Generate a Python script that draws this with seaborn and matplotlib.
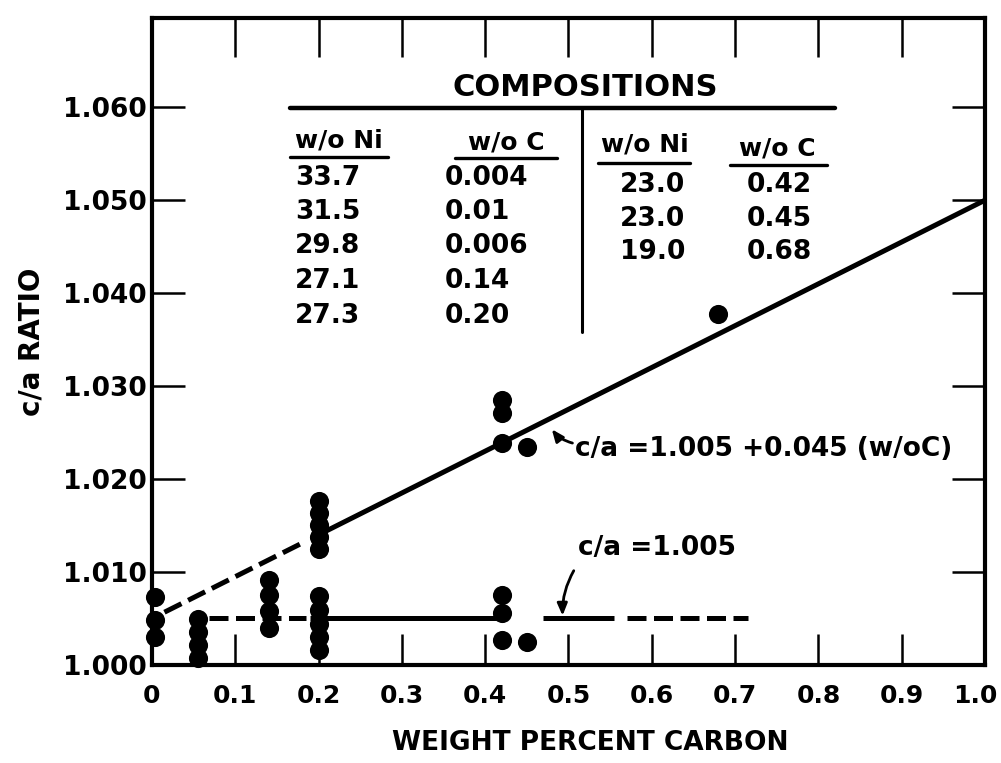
import numpy as np
import pandas as pd
import matplotlib
matplotlib.use("Agg")
import matplotlib.pyplot as plt
import matplotlib.transforms as mtransforms
import seaborn as sns

# Measured c/a ratios of the martensite versus carbon content (weight percent)
carbon_wt = [0.004, 0.004, 0.004,
             0.055, 0.055, 0.055, 0.055,
             0.14, 0.14, 0.14, 0.14,
             0.20, 0.20, 0.20, 0.20, 0.20,
             0.20, 0.20, 0.20, 0.20, 0.20,
             0.42, 0.42, 0.42, 0.45,
             0.42, 0.42, 0.42, 0.45,
             0.68]
ca_ratio = [1.0073, 1.0048, 1.0030,
            1.0049, 1.0035, 1.0022, 1.0008,
            1.0091, 1.0075, 1.0058, 1.0040,
            1.0176, 1.0163, 1.0151, 1.0138, 1.0125,
            1.0074, 1.0059, 1.0044, 1.0030, 1.0016,
            1.0285, 1.0271, 1.0239, 1.0234,
            1.0075, 1.0056, 1.0027, 1.0025,
            1.0378]

# Fitted relations
fit_intercept = 1.005
fit_slope = 0.045
flat_ratio = 1.005

# Alloy compositions table
left_ni = ["33.7", "31.5", "29.8", "27.1", "27.3"]
left_c = ["0.004", "0.01", "0.006", "0.14", "0.20"]
right_ni = ["23.0", "23.0", "19.0"]
right_c = ["0.42", "0.45", "0.68"]

x_ticks = [0.0, 0.1, 0.2, 0.3, 0.4, 0.5, 0.6, 0.7, 0.8, 0.9, 1.0]
x_tick_labels = ["0", "0.1", "0.2", "0.3", "0.4", "0.5", "0.6", "0.7", "0.8", "0.9", "1.0"]
y_ticks = [1.000, 1.010, 1.020, 1.030, 1.040, 1.050, 1.060]
y_tick_labels = ["1.000", "1.010", "1.020", "1.030", "1.040", "1.050", "1.060"]

sns.set_theme(style="ticks")
plt.rcParams["font.family"] = ["DejaVu Sans"]
plt.rcParams["font.weight"] = "bold"
for key in ("text.color", "axes.labelcolor", "xtick.color", "ytick.color", "axes.edgecolor"):
    plt.rcParams[key] = "black"

fig = plt.figure(figsize=(10.01, 7.63), dpi=100, facecolor="white")
ax = fig.add_axes([0.1518, 0.1285, 0.8322, 0.8479])
ax.set_facecolor("white")

df = pd.DataFrame({"carbon": carbon_wt, "ratio": ca_ratio})

ink = "black"
lw = 3.6
dash = (0, (3.8, 1.5))


def fit(x):
    return fit_intercept + fit_slope * np.asarray(x)


# Linear relation: dashed at low carbon, solid beyond
xs = np.array([0.015, 0.185])
ax.plot(xs, fit(xs), color=ink, lw=lw, ls=dash, dash_capstyle="butt")
xs = np.array([0.195, 1.0])
ax.plot(xs, fit(xs), color=ink, lw=lw, solid_capstyle="butt")

# Constant relation
flat = lambda x: np.full(len(x), flat_ratio)
xs = np.array([0.068, 0.185])
ax.plot(xs, flat(xs), color=ink, lw=lw, ls=dash, dash_capstyle="butt")
xs = np.array([0.19, 0.415])
ax.plot(xs, flat(xs), color=ink, lw=lw, solid_capstyle="butt")
xs = np.array([0.47, 0.555])
ax.plot(xs, flat(xs), color=ink, lw=lw, solid_capstyle="butt")
xs = np.array([0.57, 0.715])
ax.plot(xs, flat(xs), color=ink, lw=lw, ls=dash, dash_capstyle="butt")

sns.scatterplot(data=df, x="carbon", y="ratio", ax=ax, color=ink, s=190,
                linewidth=0, zorder=5, clip_on=False, legend=False)

ax.set_xlim(0, 1.0)
ax.set_ylim(1.000, 1.0696)
ax.set_xticks(x_ticks)
ax.set_xticklabels(x_tick_labels, fontsize=18, fontweight="bold")
ax.set_yticks(y_ticks)
ax.set_yticklabels(y_tick_labels, fontsize=19, fontweight="bold")

ax.tick_params(axis="x", direction="in", length=22, width=1.8, top=True, bottom=True, pad=14)
ax.tick_params(axis="y", direction="in", length=24, width=1.8, left=True, right=True, pad=4)
for t in ax.xaxis.get_major_ticks():
    t.tick2line.set_markersize(28)

# keep the last carbon label inside the frame edge
last = ax.get_xticklabels()[-1]
last.set_transform(last.get_transform() +
                   mtransforms.ScaledTranslation(-10 / 100, 0, fig.dpi_scale_trans))

for s in ax.spines.values():
    s.set_color(ink)
    s.set_linewidth(3.0)

ax.set_xlabel("WEIGHT PERCENT CARBON", fontsize=19, fontweight="bold")
ax.xaxis.set_label_coords(0.526, -0.10)
ax.set_ylabel("c/a RATIO", fontsize=20, fontweight="bold")
ax.yaxis.set_label_coords(-0.128, 0.50)

# Compositions table drawn in axes fraction
tr = ax.transAxes
fs = 19
ax.text(0.52, 0.892, "COMPOSITIONS", transform=tr, ha="center", va="center",
        fontsize=22, fontweight="bold")
ax.plot([0.166, 0.82], [0.861, 0.861], transform=tr, color=ink, lw=3.2)
ax.plot([0.516, 0.516], [0.861, 0.515], transform=tr, color=ink, lw=2.2)

headers = [(0.224, 0.811, "w/o Ni", (0.166, 0.283), 0.785),
           (0.425, 0.807, "w/o C", (0.364, 0.486), 0.783),
           (0.592, 0.804, "w/o Ni", (0.535, 0.646), 0.776),
           (0.751, 0.799, "w/o C", (0.694, 0.810), 0.773)]
for hx, hy, label, (u0, u1), uy in headers:
    ax.text(hx, hy, label, transform=tr, ha="center", va="center", fontsize=18,
            fontweight="bold")
    ax.plot([u0, u1], [uy, uy], transform=tr, color=ink, lw=2.4)

left_rows = [0.753, 0.700, 0.647, 0.594, 0.540]
for yy, ni, c in zip(left_rows, left_ni, left_c):
    ax.text(0.211, yy, ni, transform=tr, ha="center", va="center", fontsize=fs,
            fontweight="bold")
    ax.text(0.352, yy, c, transform=tr, ha="left", va="center", fontsize=fs,
            fontweight="bold")
right_rows = [0.742, 0.690, 0.638]
for yy, ni, c in zip(right_rows, right_ni, right_c):
    ax.text(0.601, yy, ni, transform=tr, ha="center", va="center", fontsize=fs,
            fontweight="bold")
    ax.text(0.753, yy, c, transform=tr, ha="center", va="center", fontsize=fs,
            fontweight="bold")

# Relation labels with pointers
ax.annotate("", xy=(0.478, 1.0256), xytext=(0.508, 1.0238),
            arrowprops=dict(arrowstyle="-|>,head_length=0.6,head_width=0.25",
                            color=ink, lw=2.0, connectionstyle="arc3,rad=-0.2"))
ax.text(0.508, 1.0232, "c/a =1.005 +0.045 (w/oC)", fontsize=19, fontweight="bold",
        ha="left", va="center")

ax.annotate("", xy=(0.493, flat_ratio), xytext=(0.508, 1.0104),
            arrowprops=dict(arrowstyle="-|>,head_length=0.6,head_width=0.25",
                            color=ink, lw=2.0, connectionstyle="arc3,rad=0.15"))
ax.text(0.511, 1.0126, "c/a =1.005", fontsize=19, fontweight="bold",
        ha="left", va="center")

fig.savefig("out.png", dpi=100, facecolor="white")
